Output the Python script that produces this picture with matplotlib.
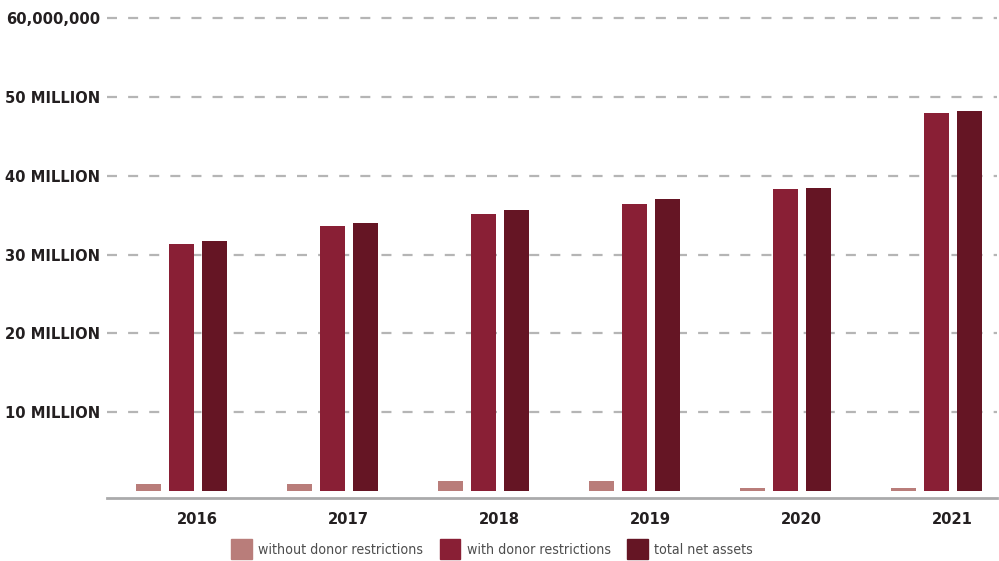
#!/usr/bin/env python3
import numpy as np
import matplotlib
matplotlib.use("Agg")
import matplotlib.pyplot as plt
from matplotlib.patches import Patch

# ---- data ----
years = ["2016", "2017", "2018", "2019", "2020", "2021"]
without_restr = [0.9e6, 0.9e6, 1.3e6, 1.3e6, 0.4e6, 0.4e6]
with_restr = [31.3e6, 33.6e6, 35.1e6, 36.4e6, 38.3e6, 48.0e6]
total_assets = [31.7e6, 34.0e6, 35.7e6, 37.1e6, 38.5e6, 48.2e6]

series_names = ["without donor restrictions", "with donor restrictions", "total net assets"]
ytick_vals = [10e6, 20e6, 30e6, 40e6, 50e6, 60e6]
ytick_text = ["10 MILLION", "20 MILLION", "30 MILLION", "40 MILLION", "50 MILLION", "60,000,000"]

col_without = "#B97D7A"
col_with = "#891F35"
col_total = "#651524"

plt.rcParams['font.family'] = ["DejaVu Sans"]
plt.rcParams['font.stretch'] = "condensed"


# ============================================================================
def plot_assets():
    fig = plt.figure(figsize=(9.99, 5.61), dpi=100)
    W, H = 999.0, 561.0
    # axes: left edge at 107px, right at 997px, bottom spine at 498px, top near 4px
    ax = fig.add_axes([107 / W, (H - 498) / H, (997 - 107) / W, (498 - 4) / H])

    x = np.arange(len(years))
    step = 0.2185
    bw = 0.166
    ax.bar(x - step, without_restr, bw, color=col_without, zorder=3)
    ax.bar(x, with_restr, bw, color=col_with, zorder=3)
    ax.bar(x + step, total_assets, bw, color=col_total, zorder=3)

    ax.set_xlim(-0.493, 5.401)
    ax.set_ylim(-0.9e6, 61.8e6)

    # dashed grid lines
    for v in ytick_vals:
        ax.axhline(v, color="#b5b5b5", lw=1.6, dashes=(4.5, 5.0), zorder=1)

    ax.set_yticks(ytick_vals)
    ax.set_yticklabels(ytick_text, fontsize=11.8, fontweight="bold", color="#231f20",
                       fontstretch="condensed")
    ax.tick_params(axis="y", length=0, pad=5)

    ax.set_xticks(x + 0.105)
    ax.set_xticklabels(years, fontsize=11.8, fontweight="bold", color="#231f20",
                       fontstretch="condensed")
    ax.tick_params(axis="x", length=0, pad=10)

    for s in ["top", "right", "left"]:
        ax.spines[s].set_visible(False)
    ax.spines["bottom"].set_color("#aaaaab")
    ax.spines["bottom"].set_linewidth(2.0)

    handles = [Patch(color=col_without), Patch(color=col_with), Patch(color=col_total)]
    leg = fig.legend(handles, series_names, loc="center", bbox_to_anchor=(492 / W, (H - 549) / H),
                     ncol=3, frameon=False, fontsize=10.2, labelcolor="#4d4d4d",
                     handlelength=1.47, handleheight=1.7, handletextpad=0.45,
                     columnspacing=1.15)
    for t in leg.get_texts():
        t.set_fontstretch("condensed")

    fig.savefig("out.png", dpi=100)
    return


# ============================================================================
if __name__ == "__main__":
    plot_assets()
